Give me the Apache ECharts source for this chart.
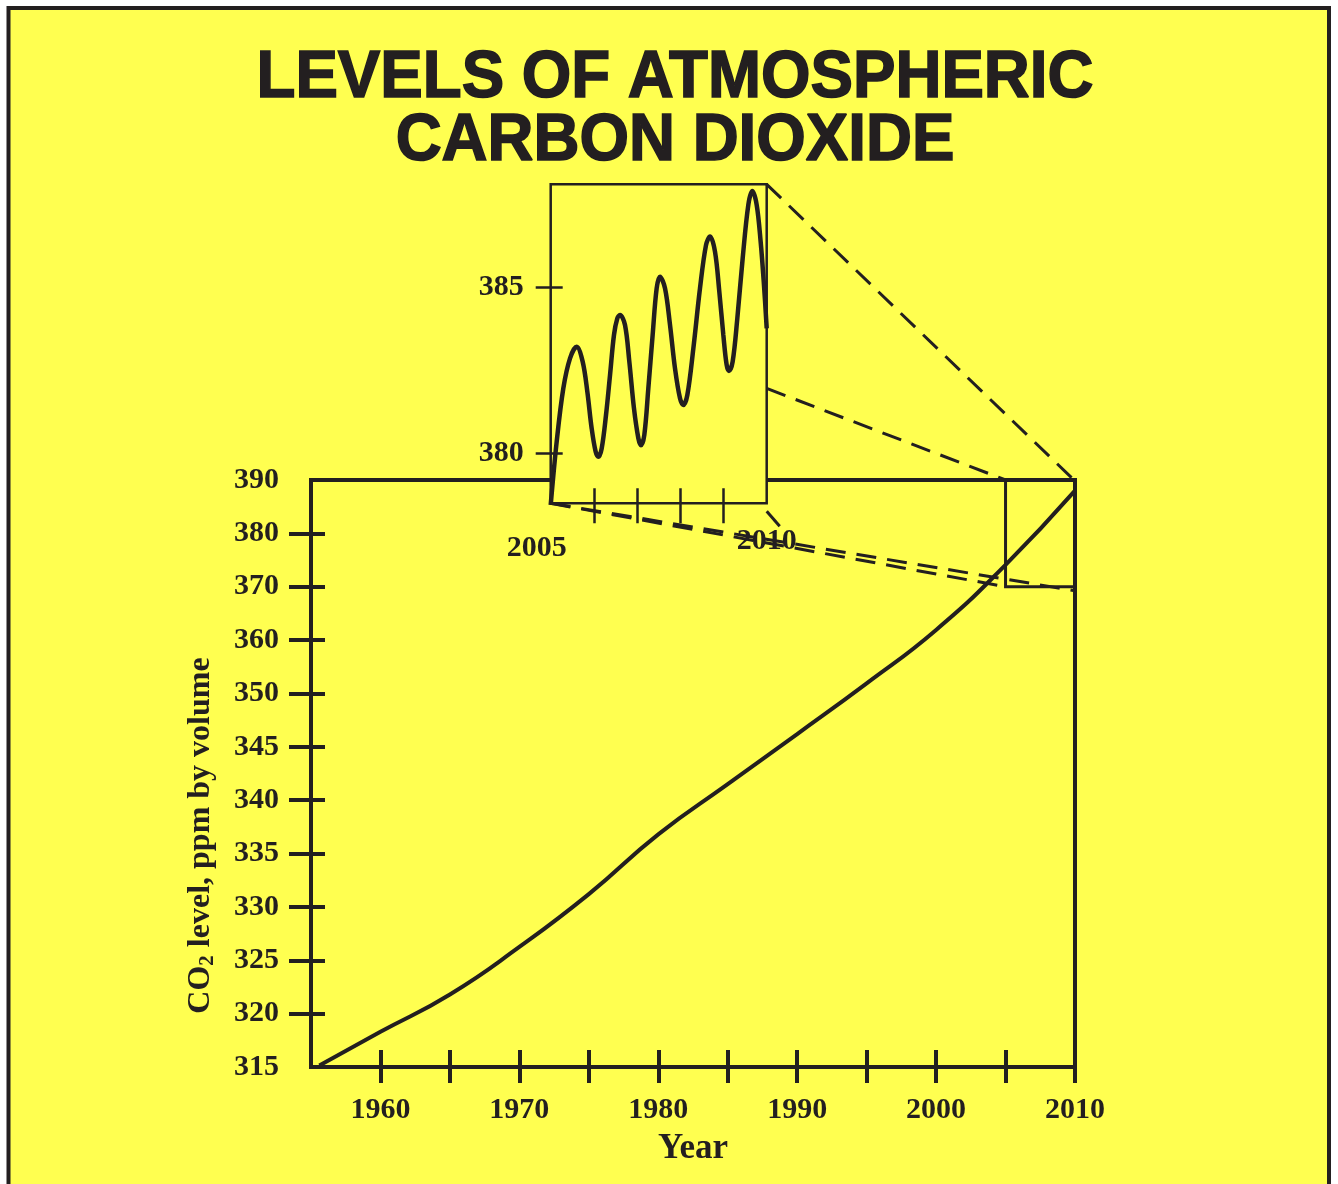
<!DOCTYPE html>
<html><head><meta charset="utf-8">
<script src="https://cdn.jsdelivr.net/npm/echarts@6/dist/echarts.min.js"></script>
<style>html,body{margin:0;padding:0;background:#fff}#c{width:1338px;height:1184px}</style>
</head><body><div id="c"></div>
<script>
// ---------- data ----------
const titleLines = ['LEVELS OF ATMOSPHERIC', 'CARBON DIOXIDE'];
const xAxisName = 'Year';
const yAxisName = ['CO', '2', ' level, ppm by volume'];

// main curve (year, ppm)
const years = [1955.6, 1960, 1965, 1970, 1975, 1980, 1985, 1990, 1995, 2000, 2005, 2010];
const co2   = [315.15, 318.3, 321.8, 326.25, 331.2, 336.8, 341.5, 346.2, 351.9, 361.9, 374.1, 388.0];

// main axis tick labels (equally spaced on the axis)
const yTickLabels = [315, 320, 325, 330, 335, 340, 345, 350, 360, 370, 380, 390];
const xLabelYears = [1960, 1970, 1980, 1990, 2000, 2010];
const xTickYears  = [1960, 1965, 1970, 1975, 1980, 1985, 1990, 1995, 2000, 2005, 2010];

// inset (2005-2010 seasonal cycle)
const insetYears = [2005.000, 2005.138, 2005.292, 2005.447, 2005.601, 2005.740, 2005.848, 2005.948, 2006.041, 2006.103,
                    2006.180, 2006.280, 2006.373, 2006.465, 2006.542, 2006.604, 2006.720, 2006.820, 2006.928, 2007.029,
                    2007.090, 2007.167, 2007.260, 2007.360, 2007.453, 2007.530, 2007.646, 2007.762, 2007.877, 2007.993,
                    2008.070, 2008.163, 2008.302, 2008.456, 2008.595, 2008.688, 2008.803, 2008.903, 2008.996, 2009.073,
                    2009.127, 2009.212, 2009.320, 2009.444, 2009.575, 2009.667, 2009.768, 2009.860, 2009.937, 2010.000];
const insetCo2   = [378.42, 380.33, 381.95, 382.86, 383.21, 382.76, 381.85, 380.74, 380.03, 379.88,
                    380.13, 381.14, 382.35, 383.57, 384.07, 384.17, 383.87, 382.76, 381.34, 380.44,
                    380.23, 380.54, 381.95, 383.57, 384.98, 385.33, 384.98, 383.87, 382.56, 381.65,
                    381.45, 381.75, 383.16, 384.98, 386.29, 386.55, 386.09, 384.88, 383.57, 382.66,
                    382.48, 382.76, 384.07, 385.89, 387.51, 387.93, 387.51, 386.39, 385.08, 383.77];
const insetYTicks  = [380, 385];
const insetXLabels = [2005, 2010];
const insetXTicks  = [2006, 2007, 2008, 2009];
const insetRange = { xMin: 2005, xMax: 2010, yMin: 378.47, yMax: 388.13 };
const zoomBox = { x0: 2005, x1: 2010, y0: 370, y1: 390 };

// ---------- helpers ----------
const DARK = '#231f20', YEL = '#ffff50';
const SERIF = '"Liberation Serif", "Times New Roman", serif';
function toIdx(v) {
  const t = yTickLabels;
  for (let i = 0; i < t.length - 1; i++) {
    if (v <= t[i + 1]) return i + (v - t[i]) / (t[i + 1] - t[i]);
  }
  return t.length - 1;
}
const mainData = years.map((y, i) => [y, toIdx(co2[i])]);
const insetData = insetYears.map((y, i) => [y, insetCo2[i]]);
const lbl = { color: DARK, fontFamily: SERIF, fontWeight: 'bold', fontSize: 30 };
const tickStyle = (w) => ({ color: DARK, width: w });

const chart = echarts.init(document.getElementById('c'), null, { renderer: 'canvas' });
const option = {
  animation: false,
  backgroundColor: 'transparent',
  graphic: [
    { type: 'rect', id: 'bg', z: -100, shape: { x: 8.5, y: 8, width: 1320.5, height: 1200 },
      style: { fill: YEL, stroke: DARK, lineWidth: 4 } },
    { type: 'text', id: 'title', x: 675, y: 110, scaleX: 0.95, z: 10,
      style: { text: titleLines.join('\n'), fontFamily: '"Liberation Sans", Arial, sans-serif', fontWeight: 'bold',
               fontSize: 67, lineHeight: 63, fill: DARK, stroke: DARK, lineWidth: 1.6,
               align: 'center', verticalAlign: 'middle' } }
  ],
  grid: [
    { left: 311, top: 480, width: 764, height: 587, show: true, borderColor: DARK, borderWidth: 4,
      backgroundColor: 'transparent', outerBoundsMode: 'none' },
    { left: 550.7, top: 184.3, width: 216, height: 319, show: true, borderColor: DARK, borderWidth: 2.5,
      backgroundColor: YEL, outerBoundsMode: 'none' }
  ],
  xAxis: [
    { gridIndex: 0, type: 'value', min: 1955, max: 2010, interval: 5, position: 'bottom',
      axisLine: { show: false, onZero: false }, splitLine: { show: false },
      axisTick: { show: true, customValues: xTickYears, length: 16, lineStyle: tickStyle(4) },
      axisLabel: Object.assign({ customValues: xLabelYears, margin: 28, formatter: v => String(v) }, lbl),
      name: xAxisName, nameLocation: 'middle', nameGap: 64,
      nameTextStyle: { color: DARK, fontFamily: SERIF, fontWeight: 'bold', fontSize: 35 } },
    { gridIndex: 0, type: 'value', min: 1955, max: 2010, interval: 5, position: 'bottom',
      axisLine: { show: false, onZero: false }, splitLine: { show: false },
      axisTick: { show: true, inside: true, customValues: xTickYears, length: 17, lineStyle: tickStyle(4) },
      axisLabel: { show: false } },
    { gridIndex: 1, type: 'value', min: insetRange.xMin, max: insetRange.xMax, interval: 1, position: 'bottom',
      axisLine: { show: false, onZero: false }, splitLine: { show: false },
      axisTick: { show: true, customValues: insetXTicks, length: 20, lineStyle: tickStyle(2.5) },
      axisLabel: Object.assign({ customValues: insetXLabels, margin: 23,
        formatter: v => (v === insetXLabels[0] ? '{l|' + v + '}' : '{r|' + v + '}'),
        rich: { l: Object.assign({ padding: [7, 28, 0, 0] }, lbl), r: Object.assign({}, lbl) } }, lbl) },
    { gridIndex: 1, type: 'value', min: insetRange.xMin, max: insetRange.xMax, interval: 1, position: 'bottom',
      axisLine: { show: false, onZero: false }, splitLine: { show: false },
      axisTick: { show: true, inside: true, customValues: insetXTicks, length: 15, lineStyle: tickStyle(2.5) },
      axisLabel: { show: false } }
  ],
  yAxis: [
    { gridIndex: 0, type: 'value', min: 0, max: yTickLabels.length - 1, interval: 1, position: 'left',
      axisLine: { show: false, onZero: false }, splitLine: { show: false },
      axisTick: { show: true, customValues: yTickLabels.map((_, i) => i).slice(1, -1), length: 22, lineStyle: tickStyle(4) },
      axisLabel: Object.assign({ customValues: yTickLabels.map((_, i) => i), margin: 32,
        formatter: v => String(yTickLabels[Math.round(v)]) }, lbl),
      name: '{a|' + yAxisName[0] + '}{s|' + yAxisName[1] + '}{a|' + yAxisName[2] + '}',
      nameLocation: 'middle', nameGap: 86,
      nameTextStyle: { color: DARK, fontFamily: SERIF, fontWeight: 'bold', fontSize: 32, padding: [0, 124, 0, 0],
        rich: {
          a: { color: DARK, fontFamily: SERIF, fontWeight: 'bold', fontSize: 32, lineHeight: 40, verticalAlign: 'top' },
          s: { color: DARK, fontFamily: SERIF, fontWeight: 'bold', fontSize: 21, lineHeight: 40, verticalAlign: 'top', padding: [12.5, 0, 0, 0] }
        } } },
    { gridIndex: 0, type: 'value', min: 0, max: yTickLabels.length - 1, interval: 1, position: 'left',
      axisLine: { show: false, onZero: false }, splitLine: { show: false },
      axisTick: { show: true, inside: true, customValues: yTickLabels.map((_, i) => i).slice(1, -1), length: 14, lineStyle: tickStyle(4) },
      axisLabel: { show: false } },
    { gridIndex: 1, type: 'value', min: insetRange.yMin, max: insetRange.yMax, position: 'left',
      axisLine: { show: false, onZero: false }, splitLine: { show: false },
      axisTick: { show: true, customValues: insetYTicks, length: 15, lineStyle: tickStyle(2.5) },
      axisLabel: Object.assign({ customValues: insetYTicks, margin: 27 }, lbl) },
    { gridIndex: 1, type: 'value', min: insetRange.yMin, max: insetRange.yMax, position: 'left',
      axisLine: { show: false, onZero: false }, splitLine: { show: false },
      axisTick: { show: true, inside: true, customValues: insetYTicks, length: 12, lineStyle: tickStyle(2.5) },
      axisLabel: { show: false } }
  ],
  series: [
    { type: 'line', name: 'CO2', xAxisIndex: 0, yAxisIndex: 0, data: mainData, smooth: 0.5,
      symbol: 'none', lineStyle: { color: DARK, width: 4 }, z: 3,
      markArea: { silent: true, label: { show: false },
        itemStyle: { color: 'rgba(0,0,0,0)', borderColor: DARK, borderWidth: 3 },
        data: [[{ xAxis: zoomBox.x0, yAxis: toIdx(zoomBox.y0) }, { xAxis: zoomBox.x1, yAxis: toIdx(zoomBox.y1) }]] } },
    { type: 'line', name: 'CO2 2005-2010', xAxisIndex: 2, yAxisIndex: 2, data: insetData, smooth: 0.35,
      symbol: 'none', lineStyle: { color: DARK, width: 4.5 }, z: 3 }
  ]
};
chart.setOption(option);

// connector lines computed from the library's own scales
const inPx = p => chart.convertToPixel({ xAxisIndex: 2, yAxisIndex: 2 }, p);
const mainPx = p => chart.convertToPixel({ xAxisIndex: 0, yAxisIndex: 0 }, p);
const inTR = inPx([insetRange.xMax, insetRange.yMax]);
const inBL = inPx([insetRange.xMin, insetRange.yMin]);
const inBR = inPx([insetRange.xMax, insetRange.yMin]);
const inR  = inPx([insetRange.xMax, 381.95]);
const bTR = mainPx([zoomBox.x1, toIdx(zoomBox.y1)]);
const bTL = mainPx([zoomBox.x0, toIdx(zoomBox.y1)]);
const bBL = mainPx([zoomBox.x0, toIdx(zoomBox.y0)]);
const bBR = mainPx([zoomBox.x1, toIdx(zoomBox.y0)]);
const dash = { stroke: DARK, lineWidth: 3, lineDash: [20, 11] };
function seg(id, a, b, style) {
  return { type: 'line', id: id, z: 5, shape: { x1: a[0], y1: a[1], x2: b[0], y2: b[1] }, style: style };
}
chart.setOption({ graphic: [
  seg('d1', inTR, [bTR[0] - 2, bTR[1] - 1], dash),
  seg('d2', inR, bTL, dash),
  seg('d3', inBL, bBL, dash),
  seg('d4', inBL, [bBR[0], bBR[1] + 4], dash),
  seg('d5', [inBR[0], inBR[1] + 8], [inBR[0] + 13, inBR[1] + 23], { stroke: DARK, lineWidth: 3 })
] });
</script></body></html>
